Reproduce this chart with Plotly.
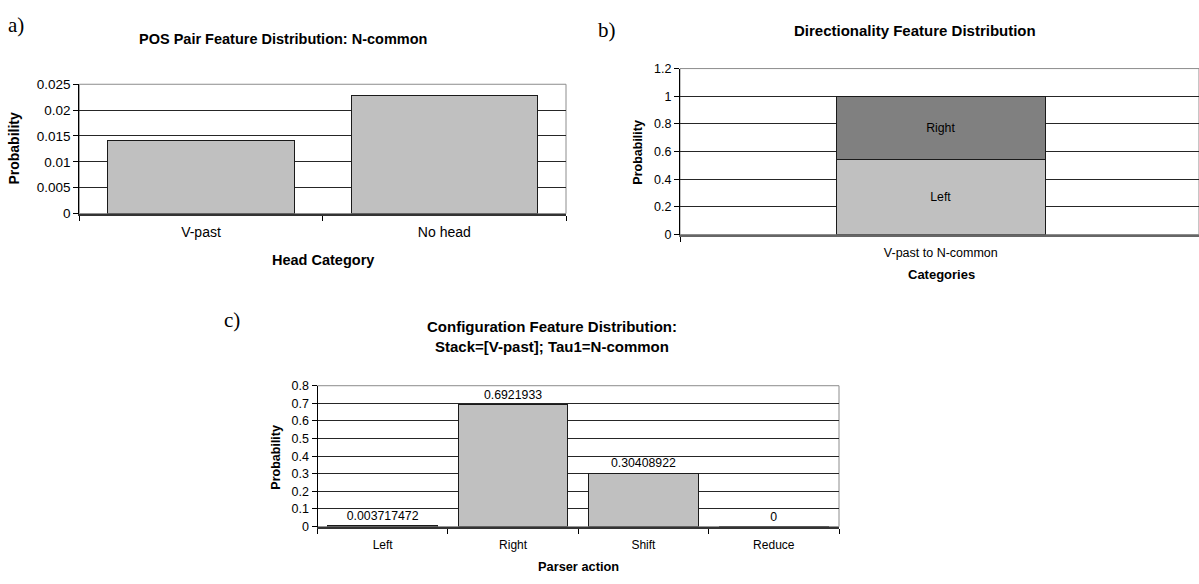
import plotly.graph_objects as go

# ---- data ----
a_categories = ["V-past", "No head"]
a_values = [0.0142, 0.0228]

b_categories = ["V-past to N-common"]
b_left = [0.541]
b_right = [0.459]

c_categories = ["Left", "Right", "Shift", "Reduce"]
c_values = [0.003717472, 0.6921933, 0.30408922, 0]

W, H = 1199, 584


def px(x):
    return x / W


def py(y):
    return 1 - y / H


FONT = "Liberation Sans, Arial, sans-serif"
SERIF = "Liberation Serif, Times New Roman, serif"
BAR = "#c0c0c0"
DARK = "#808080"
OUTLINE = dict(color="#1a1a1a", width=1)
GRID = "#262626"

fig = go.Figure()

fig.add_trace(go.Bar(x=a_categories, y=a_values, xaxis="x", yaxis="y", width=0.765,
                     marker=dict(color=BAR, line=OUTLINE), showlegend=False))

fig.add_trace(go.Bar(x=b_categories, y=b_left, xaxis="x2", yaxis="y2", width=0.40,
                     text=["Left"], textposition="inside", insidetextanchor="middle",
                     textfont=dict(family=FONT, size=12.3, color="black"),
                     marker=dict(color=BAR, line=OUTLINE), showlegend=False))
fig.add_trace(go.Bar(x=b_categories, y=b_right, xaxis="x2", yaxis="y2", width=0.40,
                     text=["Right"], textposition="inside", insidetextanchor="middle",
                     textfont=dict(family=FONT, size=12.3, color="black"),
                     marker=dict(color=DARK, line=OUTLINE), showlegend=False))

fig.add_trace(go.Bar(x=c_categories, y=c_values, xaxis="x3", yaxis="y3", width=0.84,
                     text=[str(v) for v in c_values], textposition="outside", cliponaxis=False,
                     textfont=dict(family=FONT, size=12.3, color="black"),
                     marker=dict(color=BAR, line=OUTLINE), showlegend=False))


def xaxis(dom, anchor, rng, size, linecolor, standoff):
    return dict(domain=dom, anchor=anchor, type="category", range=rng,
                tickson="boundaries", ticks="outside", ticklen=5, tickcolor="black",
                ticklabelstandoff=standoff,
                showline=True, linecolor=linecolor, linewidth=2, showgrid=False,
                tickfont=dict(family=FONT, size=size, color="black"), fixedrange=True)


def yaxis(dom, anchor, rng, dtick, size):
    return dict(domain=dom, anchor=anchor, range=rng, dtick=dtick, tick0=0,
                ticks="outside", ticklen=5, tickcolor="black",
                showline=True, linecolor="black", linewidth=1,
                showgrid=True, gridcolor=GRID, gridwidth=1, zeroline=False,
                tickfont=dict(family=FONT, size=size, color="black"), fixedrange=True)


fig.update_layout(
    width=W, height=H, margin=dict(l=0, r=0, t=0, b=0),
    paper_bgcolor="white", plot_bgcolor="white", barmode="stack",
    font=dict(family=FONT, color="black"),
    xaxis=xaxis([px(79.3), px(566)], "y", [-0.5, 1.5], 14, "#333", 5),
    yaxis=yaxis([py(212), py(79.3)], "x", [0, 0.025], 0.005, 13.5),
    xaxis2=xaxis([px(680), 1.0], "y2", [-0.5, 0.495], 12.5, "#666", 5),
    yaxis2=yaxis([py(233.5), py(63.2)], "x2", [0, 1.2], 0.2, 12.5),
    xaxis3=xaxis([px(317.5), px(839)], "y3", [-0.5, 3.5], 12, "#333", 6),
    yaxis3=yaxis([py(533.3), py(388.7)], "x3", [0, 0.8], 0.1, 12.5),
)

# plot-area borders (gray top/right)
for xr, yr in [("x domain", "y domain"), ("x2 domain", "y2 domain"), ("x3 domain", "y3 domain")]:
    fig.add_shape(type="rect", xref=xr, yref=yr, x0=0, x1=1, y0=0, y1=1,
                  line=dict(color="#8c8c8c", width=1), layer="below")

ann = []


def text(x, y, s, size, bold=False, family=FONT, angle=0):
    ann.append(dict(x=px(x), y=py(y), xref="paper", yref="paper", text=f"<b>{s}</b>" if bold else s,
                    showarrow=False, textangle=angle, xanchor="center", yanchor="middle",
                    font=dict(family=family, size=size, color="black")))


# panel letters
text(16, 18, "a)", 21, family=SERIF)
text(607, 24, "b)", 21, family=SERIF)
text(232, 321, "c)", 21, family=SERIF)

# titles
text(283, 33, "POS Pair Feature Distribution: N-common", 14.5, bold=True)
text(915, 24, "Directionality Feature Distribution", 15, bold=True)
text(552, 328, "Configuration Feature Distribution:", 15, bold=True)
text(552, 348, "Stack=[V-past]; Tau1=N-common", 15, bold=True)

# axis titles
text(322.5, 260, "Head Category", 14.5, bold=True)
text(14.3, 145, "Probability", 14, bold=True, angle=-90)
text(941.5, 275, "Categories", 13, bold=True)
text(638.5, 149, "Probability", 12.5, bold=True, angle=-90)
text(578, 574, "Parser action", 12.8, bold=True)
text(276.5, 462, "Probability", 12.5, bold=True, angle=-90)

fig.update_layout(annotations=ann)

fig.write_html("out.html", config={"displayModeBar": False},
               post_script="document.body.style.margin='0';document.body.style.overflow='hidden';")
